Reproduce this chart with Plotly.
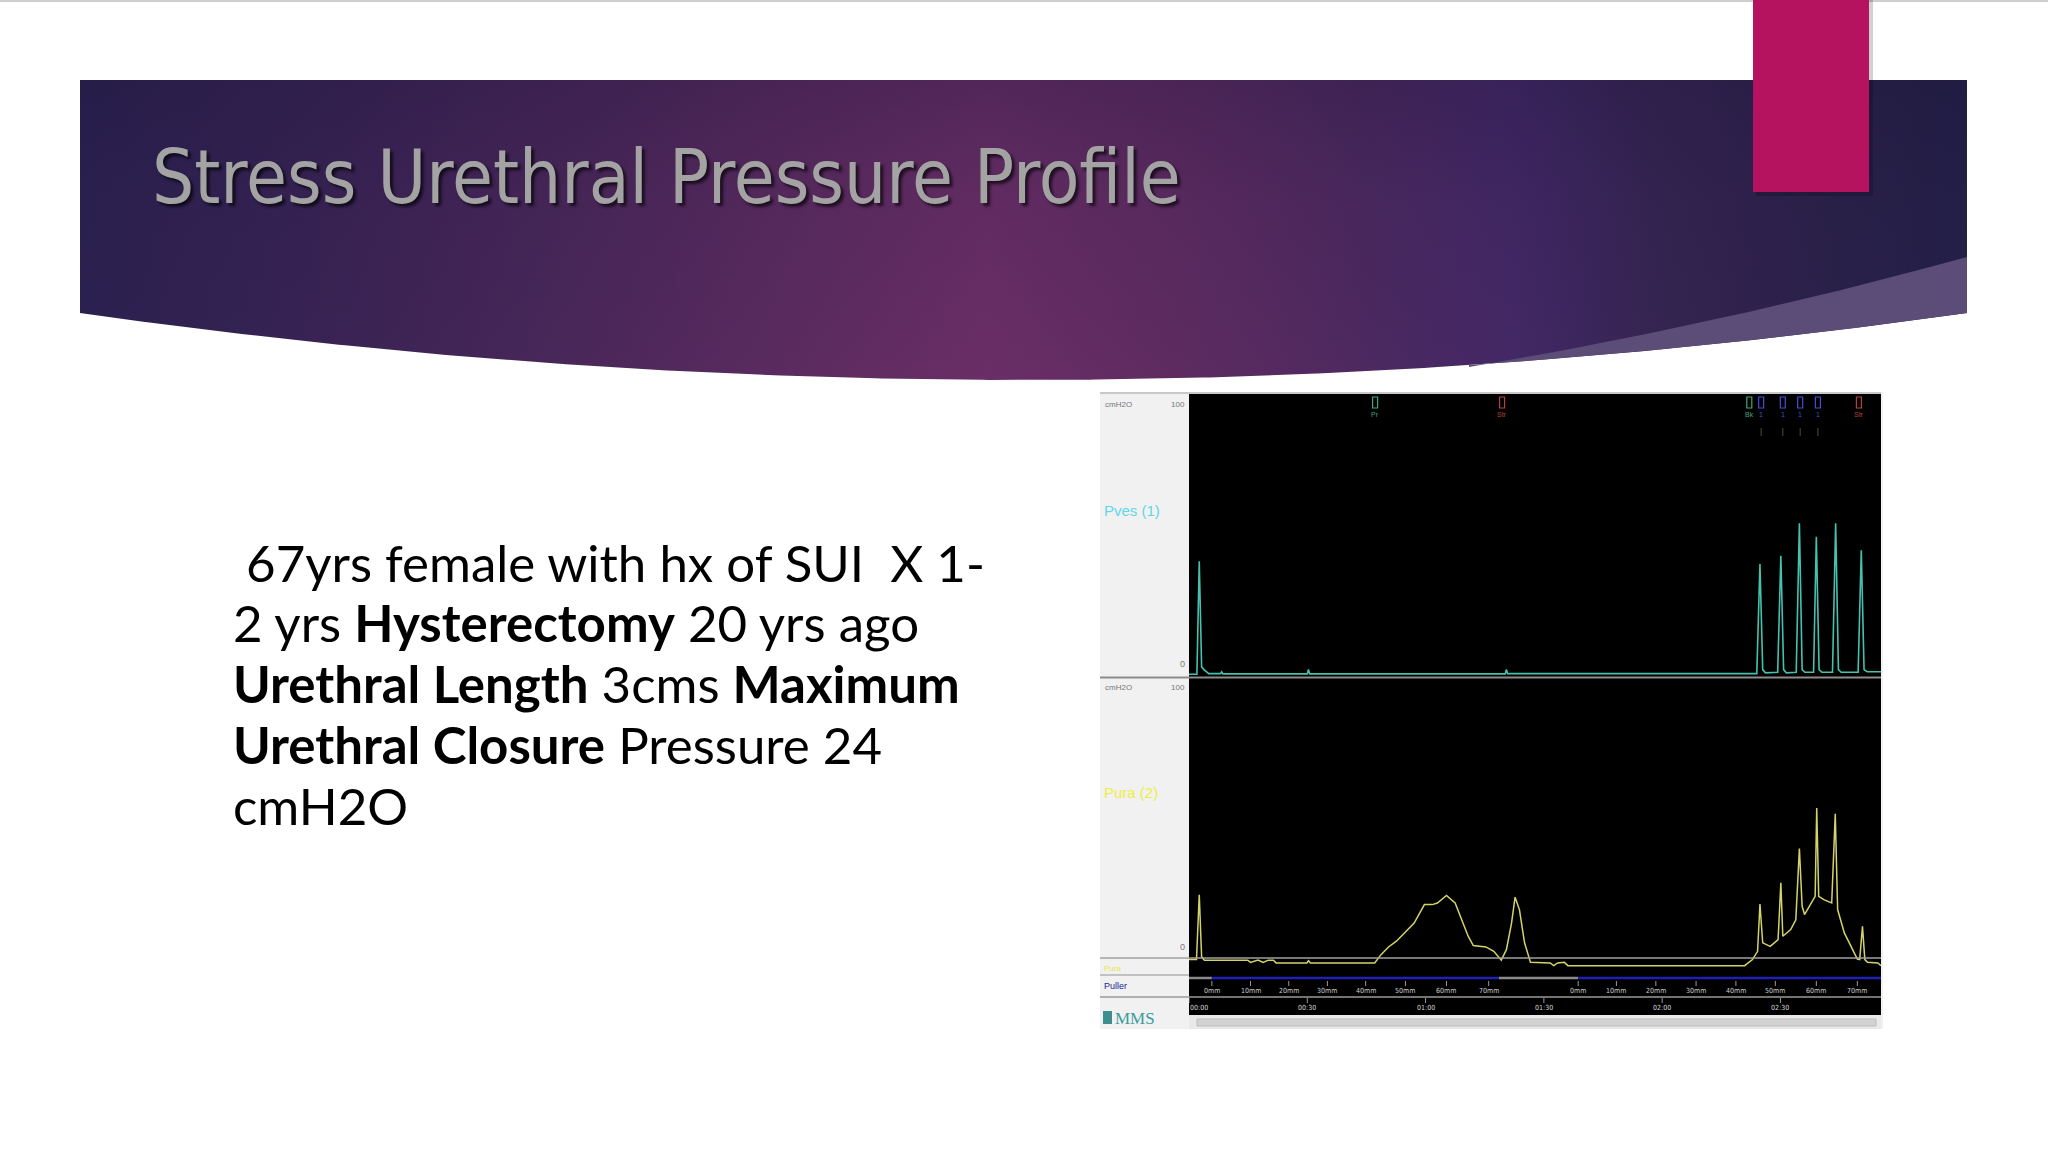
import numpy as np
import plotly.graph_objects as go

W, H = 2048, 1152

# ---------------- data ----------------
pves_time = [0.0, 2.0, 2.6, 3.2, 3.8, 5.0, 8.0, 8.3, 8.6, 30.0, 30.3, 30.6, 80.2, 80.5, 80.8,
             144.0, 144.8, 145.5, 146.2, 149.3, 150.1, 150.8, 151.5, 154.0, 154.8, 155.5, 156.2,
             158.4, 159.1, 159.8, 160.5, 163.2, 164.0, 164.7, 165.4, 169.7, 170.5, 171.2, 172.0, 175.5]
pves_cmh2o = [0.3, 0.3, 42, 3, 2, 0.5, 0.5, 1.2, 0.4, 0.4, 2, 0.4, 0.4, 2, 0.5,
              0.5, 41, 2, 0.8, 1, 44, 2, 0.8, 1, 56, 2, 1,
              1, 51, 2, 1, 1, 56, 2, 1, 1, 46, 2, 1.2, 1.2]

pura_time = [0.0, 1.9, 2.6, 3.2, 3.9, 14.9, 15.6, 17.5, 18.8, 20.1, 21.4, 22.1, 29.9, 30.3, 30.8,
             47.1, 48.7, 50.6, 52.6, 55.2, 57.1, 59.7, 61.7, 63.0, 65.3, 67.5, 68.8, 70.8, 72.1,
             75.3, 77.3, 79.2, 80.5, 81.8, 82.7, 83.8, 85.1, 86.6, 91.6, 92.5, 93.5, 95.2, 96.1,
             140.9, 142.9, 144.2, 144.8, 145.5, 147.4, 149.4, 150.1, 150.6, 152.6, 153.9, 154.8,
             155.5, 156.1, 157.8, 158.8, 159.2, 159.7, 161.0, 163.0, 163.9, 164.5, 166.2, 168.2,
             169.5, 170.1, 170.8, 171.4, 172.1, 174.7, 175.5]
pura_cmh2o = [-0.6, -0.6, 23.0, 0.4, -0.8, -0.8, -1.6, -0.8, -1.6, -0.8, -0.8, -1.8, -1.8, -1.0, -1.8,
              -1.8, 1.2, 4.0, 6.1, 9.7, 12.7, 19.4, 19.4, 20.0, 22.7, 20.0, 15.2, 7.9, 4.5,
              4.0, 2.4, -0.8, 3.0, 12.7, 22.1, 17.6, 5.5, -1.6, -1.8, -2.8, -1.8, -1.6, -2.8,
              -2.8, -0.6, 2.4, 19.6, 5.5, 4.2, 6.7, 27.3, 7.9, 10.3, 13.9, 39.8,
              18.8, 15.8, 20.0, 22.4, 54.5, 22.4, 21.2, 20.0, 52.4, 17.6, 9.1, 3.0,
              -0.4, -0.6, 11.5, -0.6, -1.6, -1.8, -2.8]

event_time = [47.2, 79.4, 142.1, 145.1, 150.6, 155.0, 159.5, 169.9]
event_color = ["#3fa77f", "#b8403c", "#3fa77f", "#4a4ad8", "#4a4ad8", "#4a4ad8", "#4a4ad8", "#b8403c"]
event_label = ["Pr", "Str", "Bk", "1", "1", "1", "1", "Str"]

puller_mm_time = [5.8, 15.6, 25.3, 35.1, 44.8, 54.9, 65.3, 76.0,
                  98.7, 108.4, 118.4, 128.6, 138.7, 148.7, 159.1, 169.5]
puller_mm_label = ["0mm", "10mm", "20mm", "30mm", "40mm", "50mm", "60mm", "70mm",
                   "0mm", "10mm", "20mm", "30mm", "40mm", "50mm", "60mm", "70mm"]
puller_seg_time = [0.0, 5.8, 78.6, 98.7, 175.5]
puller_seg_on = [False, True, False, True]

clock_time = [0, 30, 60, 90, 120, 150]
clock_label = ["00:00", "00:30", "01:00", "01:30", "02:00", "02:30"]

body_lines = [
    "\u00a067yrs female with hx of SUI\u00a0\u00a0X 1-",
    "2 yrs <b>Hysterectomy</b> 20 yrs ago",
    "<b>Urethral Length</b> 3cms <b>Maximum</b>",
    "<b>Urethral Closure</b> Pressure 24",
    "cmH2O",
]
title_text = "Stress Urethral Pressure Profile"

# ---------------- helpers ----------------
def fx(X):
    return X / W


def fy(Y):
    return 1 - Y / H


shapes, annos = [], []


def rect(X0, Y0, X1, Y1, fill, layer="below", line=None):
    shapes.append(dict(type="rect", xref="paper", yref="paper",
                       x0=fx(X0), x1=fx(X1), y0=fy(Y1), y1=fy(Y0),
                       fillcolor=fill, line=line or dict(width=0), layer=layer))


def hline(X0, X1, Y, color, width=1.0, layer="above"):
    shapes.append(dict(type="line", xref="paper", yref="paper",
                       x0=fx(X0), x1=fx(X1), y0=fy(Y), y1=fy(Y),
                       line=dict(color=color, width=width), layer=layer))


def label(X, Y, s, size, color, family="Liberation Sans", xanchor="left", yanchor="middle", **kw):
    annos.append(dict(xref="paper", yref="paper", x=fx(X), y=fy(Y), text=s, showarrow=False,
                      xanchor=xanchor, yanchor=yanchor, borderpad=0,
                      font=dict(size=size, color=color, family=family, **kw)))


fig = go.Figure()

# ---------------- slide decoration (pixel overlay axes x3/y3) ----------------
bx0, bx1, btop, bside, bsag = 80, 1967, 80, 313, 67
mid, half = (bx0 + bx1) / 2, (bx1 - bx0) / 2
arc_x = np.linspace(bx1, bx0, 300)
arc_y = bside + bsag * (1 - ((arc_x - mid) / half) ** 2)
ban_x = [bx0, bx1] + list(arc_x) + [bx0]
ban_y = [btop, btop] + list(arc_y) + [btop]

fig.add_trace(go.Scatter(
    x=ban_x, y=ban_y, xaxis="x3", yaxis="y3", mode="lines", fill="toself",
    line=dict(width=0), hoverinfo="skip",
    fillgradient=dict(type="horizontal", colorscale=[
        [0.0, "#2b2150"], [0.12, "#382354"], [0.26, "#4a275a"], [0.38, "#5c2b60"],
        [0.48, "#692e66"], [0.58, "#5e2b61"], [0.68, "#4d2960"], [0.76, "#432866"],
        [0.84, "#352451"], [0.92, "#2b214a"], [1.0, "#242048"]])))

# darker top veil
fig.add_trace(go.Scatter(
    x=ban_x, y=ban_y, xaxis="x3", yaxis="y3", mode="lines", fill="toself",
    line=dict(width=0), hoverinfo="skip",
    fillgradient=dict(type="vertical", colorscale=[
        [0.0, "rgba(25,18,55,0.0)"], [0.6, "rgba(25,18,55,0.10)"], [1.0, "rgba(25,18,55,0.28)"]])))

# lighter wedge at lower right
tt = np.linspace(0, 1, 60)
p0, pc, p2 = (1469, 367), (1720, 325), (1967, 257)
wx_top = (1 - tt) ** 2 * p0[0] + 2 * (1 - tt) * tt * pc[0] + tt ** 2 * p2[0]
wy_top = (1 - tt) ** 2 * p0[1] + 2 * (1 - tt) * tt * pc[1] + tt ** 2 * p2[1]
warc_x = np.linspace(bx1, 1469, 60)
warc_y = bside + bsag * (1 - ((warc_x - mid) / half) ** 2)
fig.add_trace(go.Scatter(
    x=list(wx_top) + list(warc_x), y=list(wy_top) + list(warc_y), xaxis="x3", yaxis="y3",
    mode="lines", fill="toself", fillcolor="#5b4c78", line=dict(width=0), hoverinfo="skip"))

# top hairline of the page
hline(0, W, 1, "#cfcfcf", 2)
# magenta bar with soft shadow
rect(1756, 0, 1873, 196, "rgba(0,0,0,0.18)", layer="above")
rect(1753, 0, 1869, 192, "#b5135f", layer="above")

# title
label(151, 177, title_text, 74, "#a3a3a3",
      family="DejaVu Sans Condensed, Liberation Sans Narrow, Roboto",
      shadow="3px 3px 3px rgba(0,0,0,0.65)")

# body text
baselines = [580, 640.5, 701.5, 762, 823]
for yb, s in zip(baselines, body_lines):
    label(232, yb - 18, s, 51, "#000000", family="Lato")

# ---------------- urodynamic trace image ----------------
CX0, CX1, PL, CY0, CY1 = 1100, 1883, 1189, 392, 1029
rect(CX0, CY0, CX1, CY1, "#f1f1f1")          # whole frame light gray
rect(PL, 394, 1881, 1015, "#000000")          # black plotting field
rect(PL, 1015, 1881, 1029, "#e9e9e9")         # scrollbar strip
shapes.append(dict(type="rect", xref="paper", yref="paper", x0=fx(1197), x1=fx(1876),
                   y0=fy(1026), y1=fy(1019), fillcolor="#d2d2d2",
                   line=dict(color="#bdbdbd", width=1), layer="above"))
hline(CX0, 1881, 677.5, "#8c8c8c", 2)
hline(CX0, 1881, 958, "#a0a0a0", 1.5)
hline(CX0, PL, 975, "#b0b0b0", 1.5)
hline(CX0, 1881, 997, "#9a9a9a", 1.5)
hline(CX0, 1881, 393, "#c8c8c8", 2)

# channel labels in left panel
label(1104, 404, "cmH2O", 8, "#777777")
label(1186, 404, "100", 8, "#777777", xanchor="right")
label(1103, 511, "Pves (1)", 15, "#5fd6ea")
label(1186, 664, "0", 9, "#777777", xanchor="right")
label(1104, 687, "cmH2O", 8, "#777777")
label(1186, 687, "100", 8, "#777777", xanchor="right")
label(1103, 792, "Pura (2)", 15, "#efee45")
label(1186, 947, "0", 9, "#777777", xanchor="right")
label(1103, 968, "Pura", 8, "#e9e83a")
label(1103, 986, "Puller", 9, "#23239a")
# MMS logo: small teal block + lettering
rect(1103, 1011, 1112, 1024, "#3c8f8f", layer="above")
label(1114, 1018, "MMS", 17, "#3c9c9c", family="Liberation Serif")

# time axes
XR = [0, 175.5]
XD = [fx(PL), fx(1881)]
layout_axes = dict(
    xaxis=dict(domain=XD, range=XR, visible=False, anchor="y", fixedrange=True),
    yaxis=dict(domain=[fy(676), fy(394)], range=[-0.37, 103.7], visible=False, fixedrange=True),
    xaxis2=dict(domain=XD, range=XR, visible=False, anchor="y2", matches="x"),
    yaxis2=dict(domain=[fy(975), fy(679)], range=[-6.2, 101.45], visible=False, fixedrange=True),
    xaxis3=dict(domain=[0, 1], range=[0, W], visible=False, anchor="y3", fixedrange=True),
    yaxis3=dict(domain=[0, 1], range=[H, 0], visible=False, fixedrange=True),
)

fig.add_trace(go.Scatter(x=pves_time, y=pves_cmh2o, xaxis="x", yaxis="y", mode="lines",
                         line=dict(color="#44c2ae", width=1.6), name="Pves (1)"))
fig.add_trace(go.Scatter(x=pura_time, y=pura_cmh2o, xaxis="x2", yaxis="y2", mode="lines",
                         line=dict(color="#d4d36a", width=1.5), name="Pura (2)"))

# event markers along the top
for t, c, s in zip(event_time, event_color, event_label):
    shapes.append(dict(type="rect", xref="x", yref="paper", xsizemode="pixel", xanchor=t,
                       x0=-2.5, x1=2.5, y0=fy(408), y1=fy(397), fillcolor="rgba(0,0,0,0)",
                       line=dict(color=c, width=1.2), layer="above"))
    annos.append(dict(xref="x", yref="paper", x=t, y=fy(414), text=s, showarrow=False,
                      xanchor="center", yanchor="middle", borderpad=0,
                      font=dict(size=7, color=c, family="Liberation Sans")))
    if c == "#4a4ad8":
        shapes.append(dict(type="line", xref="x", yref="paper", x0=t, x1=t,
                           y0=fy(436), y1=fy(428), line=dict(color="#4a4a4a", width=1),
                           layer="above"))

# puller trace
for a, b, on in zip(puller_seg_time[:-1], puller_seg_time[1:], puller_seg_on):
    shapes.append(dict(type="line", xref="x", yref="paper", x0=a, x1=b, y0=fy(978), y1=fy(978),
                       line=dict(color="#1f1fb4" if on else "#8a8a8a", width=2.5), layer="above"))
for t, s in zip(puller_mm_time, puller_mm_label):
    shapes.append(dict(type="line", xref="x", yref="paper", x0=t, x1=t, y0=fy(986), y1=fy(981),
                       line=dict(color="#9a9a9a", width=1), layer="above"))
    annos.append(dict(xref="x", yref="paper", x=t, y=fy(991), text=s, showarrow=False,
                      xanchor="center", yanchor="middle", borderpad=0,
                      font=dict(size=7, color="#d0d0d0", family="DejaVu Sans Condensed, Liberation Sans")))

for t, s in zip(clock_time, clock_label):
    shapes.append(dict(type="line", xref="x", yref="paper", x0=t, x1=t, y0=fy(1003), y1=fy(998),
                       line=dict(color="#9a9a9a", width=1), layer="above"))
    annos.append(dict(xref="x", yref="paper", x=t, y=fy(1008), text=s, showarrow=False,
                      xanchor="left" if t == 0 else "center", yanchor="middle", borderpad=0,
                      font=dict(size=7, color="#d8d8d8", family="DejaVu Sans Condensed, Liberation Sans")))

fig.update_layout(
    width=W, height=H, margin=dict(l=0, r=0, t=0, b=0),
    paper_bgcolor="#ffffff", plot_bgcolor="rgba(0,0,0,0)",
    showlegend=False, shapes=shapes, annotations=annos, **layout_axes,
)

fig.write_html("out.html", config={"displayModeBar": False},
               post_script="document.body.style.margin='0';document.body.style.padding='0';"
                           "document.body.style.overflow='hidden';")
